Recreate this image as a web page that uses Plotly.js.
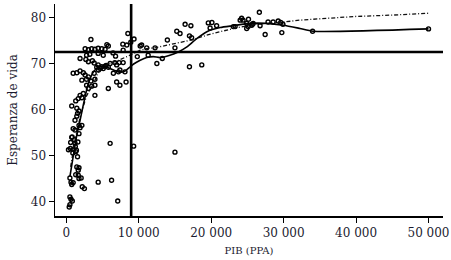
<!DOCTYPE html>
<html>
<head>
<meta charset="utf-8">
<script src="https://cdn.plot.ly/plotly-3.0.1.min.js"></script>
<style>html,body{margin:0;padding:0;background:#fff;}#chart{width:451px;height:260px;}</style>
</head>
<body>
<div id="chart"></div>
<script>
// Country observations: GDP per capita (PPP) and life expectancy
const gdp = [
  500, 650, 830, 500, 400, 7100, 2200, 2500, 4400, 6250,
  500, 650, 950, 750, 1300, 1650, 2050, 1750, 1450, 1750,
  1650, 1550, 6050, 9300, 15000, 800, 1100, 1200, 600, 550,
  1000, 1250, 1400, 1600, 300, 900, 1300, 950, 1200, 750,
  1750, 1750, 2150, 1900, 1200, 1450, 1550, 1750, 1450, 750,
  1300, 1650, 2150, 1900, 2350, 3950, 2800, 3500, 3950, 5800,
  3050, 7400, 8250, 6950, 2150, 2800, 3400, 3950,
  3400, 8500, 5600, 5800, 7800, 8350, 8900, 9350,
  2600, 3050, 3500, 3950, 4400, 4900, 5350,
  2800, 3250, 4400, 5100, 6800, 1900, 2700, 3050, 3600, 3850,
  4400, 4900, 5350, 5800, 4450, 6050, 6700, 6950, 7300, 7850,
  7400, 8100, 950, 1450, 1900, 2350, 2600, 3050, 3850, 6500,
  7200, 6450, 7850, 4700, 5100, 5500, 4200,
  10400, 11100, 12250, 13950, 15250, 15700, 16400, 17200, 17000, 17300,
  15000, 9800, 11300, 12500, 13250, 17000, 18700, 19600, 20100, 19850,
  20750, 10200,
  23050, 23300, 24000, 24400, 24900, 25100, 25600, 25800, 26750, 27850,
  28550, 29250, 29600, 24200, 25150, 25700, 26650, 24900, 27450, 29750,
  29900, 34000, 50000
];
const lifeExp = [
  41.1, 40.6, 40.2, 39.4, 38.9, 40.2, 43.3, 42.9, 44.3, 44.7,
  45.2, 44.3, 44.2, 43.8, 45.9, 45.8, 45.2, 45.1, 47.6, 47.4,
  46.9, 49.8, 52.7, 52.1, 50.8, 54.1, 53.5, 52.8, 52.9, 51.6,
  51.4, 52.0, 51.2, 53.0, 51.3, 50.6, 50.9, 55.9, 55.6, 54.0,
  54.8, 56.6, 56.6, 56.1, 57.7, 58.6, 59.2, 59.7, 60.3, 60.8,
  61.9, 62.4, 62.6, 63.1, 63.5, 63.1, 65.3, 65.1, 65.3, 64.6,
  64.6, 65.3, 66.0, 66.0, 66.4, 66.6, 66.2, 66.6,
  75.2, 76.5, 74.1, 73.8, 74.2, 74.0, 74.6, 75.3,
  73.2, 73.0, 73.2, 73.1, 73.3, 73.2, 73.1,
  71.8, 72.0, 72.2, 71.8, 71.6, 71.1, 70.9, 70.4, 70.6, 70.1,
  69.7, 69.3, 69.4, 69.2, 68.6, 70.0, 70.2, 69.7, 70.2, 70.2,
  68.6, 68.2, 67.9, 68.0, 68.4, 68.0, 67.5, 67.1, 67.9, 67.9,
  68.2, 72.3, 72.9, 69.0, 68.9, 69.6, 69.2,
  74.0, 73.4, 73.4, 75.1, 77.0, 76.5, 78.5, 78.2, 76.0, 75.6,
  73.4, 71.5, 71.8, 70.0, 71.1, 69.3, 69.7, 78.8, 78.9, 77.7,
  78.2, 73.8,
  78.0, 78.0, 79.4, 79.4, 78.7, 78.0, 78.3, 78.7, 78.2, 79.0,
  79.0, 79.2, 78.9, 79.8, 79.6, 78.5, 81.1, 77.6, 76.3, 76.7,
  78.5, 77.0, 77.5
];

// Nonparametric smooth (solid line)
const smoothX = [500, 1450, 1900, 3050, 3800, 4500, 5300, 6200, 7200, 7900, 8600, 9300,
  10200, 11100, 12000, 12950, 14300, 15450, 16650, 18000, 19400, 21250, 23050,
  25350, 27650, 29950, 32250, 34050, 50000];
const smoothY = [45.5, 54.5, 57.7, 65.7, 68.3, 69.3, 69.4, 68.8, 68.2, 68.2, 69.0, 69.9,
  70.7, 71.3, 71.5, 71.3, 71.8, 72.5, 73.6, 75.4, 76.9, 77.8, 78.2,
  78.7, 78.7, 78.3, 77.6, 77.0, 77.5];

// Parametric fit (dash-dot line)
const fitX = [600, 1200, 2000, 2800, 3800, 4650, 5800, 7200, 8800, 10200, 11300, 12250,
  14000, 16000, 17550, 19500, 21500, 23050, 25350, 27500, 30000, 32250, 36000,
  40000, 45000, 50000];
const fitY = [47.6, 53.4, 59.0, 63.0, 65.8, 68.9, 69.9, 70.7, 71.8, 72.9, 73.3, 73.4,
  74.0, 74.7, 75.2, 76.2, 77.0, 77.6, 78.3, 78.7, 79.0, 79.4, 79.8,
  80.2, 80.5, 80.9];

// Reference lines (means)
const refGdp = 8950;
const refLife = 72.5;

const xTickVals = [0, 10000, 20000, 30000, 40000, 50000];
const xTickText = ['0', '10 000', '20 000', '30 000', '40 000', '50 000'];
const yTickVals = [40, 50, 60, 70, 80];

const textColor = '#1c1c30';
const fontFam = 'DejaVu Serif, serif';

const traces = [
  {
    x: gdp, y: lifeExp, type: 'scatter', mode: 'markers',
    marker: {symbol: 'circle-open', size: 4, color: '#000', line: {width: 1.4, color: '#000'}},
    hoverinfo: 'none'
  },
  {
    x: fitX, y: fitY, type: 'scatter', mode: 'lines',
    line: {color: '#111', width: 1.3, dash: '4px,2px,1px,2px'},
    hoverinfo: 'none'
  },
  {
    x: smoothX, y: smoothY, type: 'scatter', mode: 'lines',
    line: {color: '#000', width: 1.6, shape: 'spline', smoothing: 0.6},
    hoverinfo: 'none'
  }
];

const layout = {
  width: 451, height: 260,
  margin: {l: 55, r: 8, t: 4, b: 44},
  paper_bgcolor: '#fff', plot_bgcolor: '#fff',
  showlegend: false,
  font: {family: fontFam, color: textColor, size: 12},
  xaxis: {
    range: [-1560, 52000],
    tickvals: xTickVals, ticktext: xTickText,
    showgrid: false, zeroline: false,
    showline: true, linecolor: '#000', linewidth: 1.5,
    ticks: 'outside', ticklen: 5, tickwidth: 1, tickcolor: '#000',
    tickfont: {family: fontFam, size: 12, color: textColor},
    title: {text: 'PIB (PPA)', font: {family: fontFam, size: 10, color: textColor}, standoff: 8},
    automargin: false
  },
  yaxis: {
    range: [36.96, 82.9],
    tickvals: yTickVals,
    showgrid: false, zeroline: false,
    showline: true, linecolor: '#000', linewidth: 1.5,
    ticks: 'outside', ticklen: 5, tickwidth: 1, tickcolor: '#000',
    tickfont: {family: fontFam, size: 12, color: textColor},
    title: {text: 'Esperanza de vida', font: {family: fontFam, size: 12, color: textColor}, standoff: 10},
    automargin: false
  },
  shapes: [
    {type: 'line', xref: 'x', yref: 'paper', x0: refGdp, x1: refGdp, y0: 0, y1: 1,
     line: {color: '#000', width: 2.6}},
    {type: 'line', xref: 'paper', yref: 'y', x0: 0, x1: 1, y0: refLife, y1: refLife,
     line: {color: '#000', width: 2.6}}
  ]
};

Plotly.newPlot('chart', traces, layout, {staticPlot: true, displayModeBar: false});
</script>
</body>
</html>
